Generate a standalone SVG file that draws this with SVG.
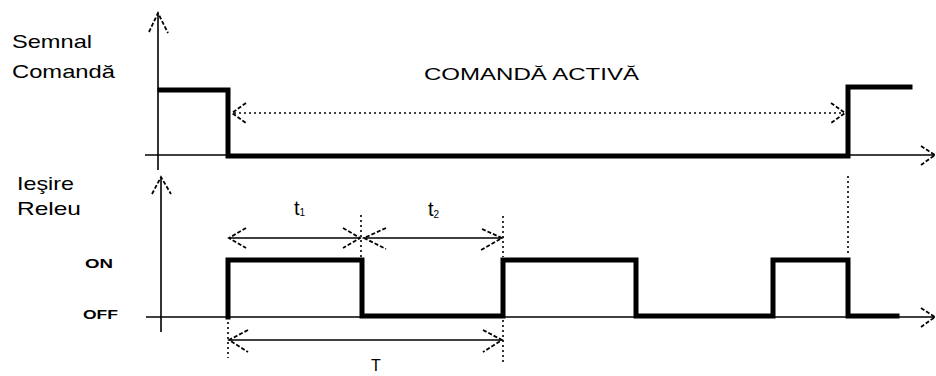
<svg xmlns="http://www.w3.org/2000/svg" width="936" height="376" viewBox="0 0 936 376">
<style>
.axis{stroke:#000;stroke-width:1.6;fill:none}
.sig{stroke:#000;stroke-width:5;fill:none;stroke-linejoin:miter;stroke-linecap:square}
.thin{stroke:#000;stroke-width:1.6;fill:none}
.dot{stroke:#000;stroke-width:1.6;fill:none;stroke-dasharray:2,3}
.head{stroke:#000;stroke-width:1.8;fill:none;stroke-dasharray:4,2}
.lbl{font-family:"Liberation Sans",Arial,sans-serif;font-size:19px;fill:#000}
.lv{font-family:"Liberation Sans",Arial,sans-serif;font-size:13px;font-weight:bold;fill:#000}
</style>
<rect width="936" height="376" fill="#fff"/>
<g id="labels">
<text class="lbl" x="12" y="48" textLength="80" lengthAdjust="spacingAndGlyphs">Semnal</text>
<text class="lbl" x="12" y="78" textLength="103" lengthAdjust="spacingAndGlyphs">Comandă</text>
<text class="lbl" x="17" y="190" textLength="57" lengthAdjust="spacingAndGlyphs">Ieşire</text>
<text class="lbl" x="17" y="215" textLength="64" lengthAdjust="spacingAndGlyphs">Releu</text>
<text class="lv" x="85" y="268" textLength="28" lengthAdjust="spacingAndGlyphs">ON</text>
<text class="lv" x="83" y="319" textLength="35" lengthAdjust="spacingAndGlyphs">OFF</text>
<text class="lbl" x="424" y="80" style="font-size:16px" textLength="215" lengthAdjust="spacingAndGlyphs">COMANDĂ ACTIVĂ</text>
<text class="lbl" x="294" y="215" style="font-size:20px">t<tspan style="font-size:10px" dy="1">1</tspan></text>
<text class="lbl" x="428" y="216" style="font-size:20px">t<tspan style="font-size:10px" dy="2">2</tspan></text>
<text class="lbl" x="371" y="371" style="font-size:16px">T</text>
</g>
<g id="axes">
<line class="axis" x1="158" y1="13" x2="158" y2="170"/>
<line class="axis" x1="145" y1="155" x2="935" y2="155"/>
<line class="axis" x1="161" y1="177" x2="161" y2="332"/>
<line class="axis" x1="146" y1="317" x2="935" y2="317"/>
<path class="head" d="M149,32 L158,13 L168,33"/>
<path class="head" d="M152,194 L161,177 L171,194"/>
<path class="head" d="M921,146 L935,155 L921,165"/>
<path class="head" d="M921,308 L935,317 L921,327"/>
</g>
<g id="command-signal">
<polyline class="sig" points="160,90 228,90 228,156 848,156 848,87 910,87"/>
</g>
<g id="relay-output">
<polyline class="sig" points="228,317 228,260 362,260 362,316 503,316 503,260 636,260 636,316 773,316 773,260 848,260 848,316 897,316"/>
</g>
<g id="connectors">
<line class="dot" x1="234" y1="113" x2="843" y2="113"/>
<path class="head" d="M246,103 L232,113 L246,123"/>
<path class="head" d="M831,103 L845,113 L831,123"/>
<line class="thin" x1="229" y1="238" x2="360" y2="238"/>
<path class="head" d="M246,228 L229,238 L246,248"/>
<path class="head" d="M343,228 L360,238 L343,248"/>
<line class="thin" x1="364" y1="238" x2="502" y2="238"/>
<path class="head" d="M386,228 L364,238 L386,249"/>
<path class="head" d="M482,229 L502,238 L481,250"/>
<line class="thin" x1="229" y1="340" x2="502" y2="340"/>
<path class="head" d="M248,330 L229,340 L248,352"/>
<path class="head" d="M483,330 L502,340 L483,352"/>
<line class="dot" x1="228" y1="322" x2="228" y2="358"/>
<line class="dot" x1="361" y1="215" x2="361" y2="257"/>
<line class="dot" x1="503" y1="216" x2="503" y2="257"/>
<line class="dot" x1="503" y1="320" x2="503" y2="362"/>
<line class="dot" x1="848" y1="176" x2="848" y2="254"/>
</g>
</svg>
